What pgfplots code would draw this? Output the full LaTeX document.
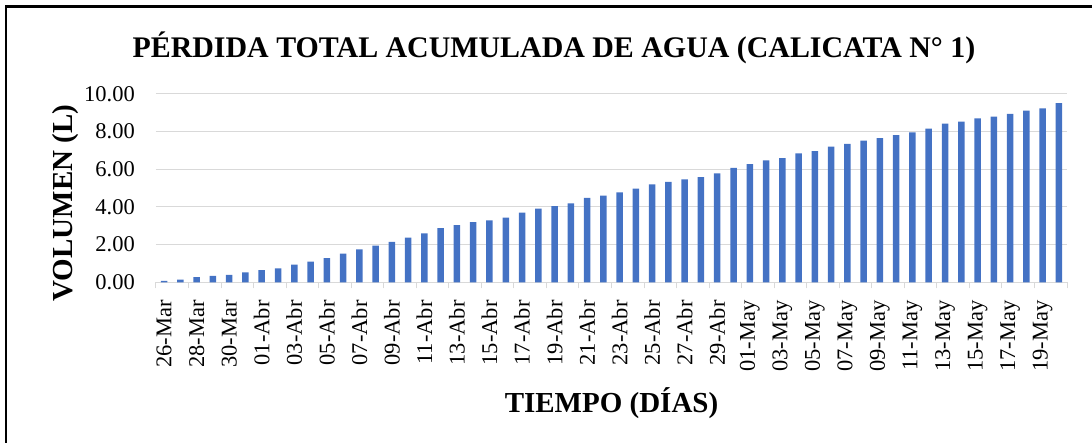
\documentclass[border=0pt]{standalone}
\usepackage{fontspec}
\setmainfont{Liberation Serif}
\usepackage{pgfplots}
\usepackage{pgfplotstable}
\pgfplotsset{compat=1.18}
\definecolor{barblue}{HTML}{4472C4}
\definecolor{gridgray}{HTML}{D9D9D9}
\pgfplotstableread{
x y
0 0.07
1 0.14
2 0.28
3 0.34
4 0.39
5 0.53
6 0.65
7 0.74
8 0.94
9 1.10
10 1.29
11 1.52
12 1.75
13 1.95
14 2.14
15 2.37
16 2.60
17 2.88
18 3.03
19 3.20
20 3.29
21 3.43
22 3.70
23 3.91
24 4.05
25 4.19
26 4.48
27 4.60
28 4.78
29 4.97
30 5.20
31 5.33
32 5.47
33 5.58
34 5.79
35 6.07
36 6.28
37 6.48
38 6.60
39 6.85
40 6.97
41 7.20
42 7.35
43 7.52
44 7.66
45 7.81
46 7.96
47 8.16
48 8.42
49 8.53
50 8.71
51 8.80
52 8.94
53 9.12
54 9.24
55 9.52
}\datatable
\begin{document}
\begin{tikzpicture}
\useasboundingbox (0,0) rectangle (1092pt,443pt);
\begin{axis}[
  at={(156pt,160.7pt)}, anchor=south west,
  scale only axis, width=911pt, height=188.3pt,
  xmin=-0.5, xmax=55.5, ymin=0, ymax=10,
  axis x line*=bottom, axis y line*=left,
  x axis line style={draw=gridgray, line width=1pt},
  y axis line style={draw=none},
  ymajorgrids, grid style={draw=gridgray, line width=1pt},
  ytick={0,2,4,6,8,10},
  yticklabels={0.00,2.00,4.00,6.00,8.00,10.00},
  xtick={0,2,...,54},
  xticklabels={26-Mar,28-Mar,30-Mar,01-Abr,03-Abr,05-Abr,07-Abr,09-Abr,11-Abr,13-Abr,15-Abr,17-Abr,19-Abr,21-Abr,23-Abr,25-Abr,27-Abr,29-Abr,01-May,03-May,05-May,07-May,09-May,11-May,13-May,15-May,17-May,19-May},
  minor xtick={-0.5,1.5,...,55.5},
  major tick length=0pt,
  minor tick length=6pt,
  tick align=outside,
  minor x tick style={draw=gridgray, line width=1pt},
  yticklabel style={font=\fontsize{22.5}{27}\selectfont, inner sep=0pt, xshift=-21pt, anchor=east},
  xticklabel style={font=\fontsize{22.5}{27}\selectfont, yshift=-18pt, rotate=90, anchor=east, inner sep=0pt},
  xlabel={TIEMPO (DÍAS)},
  xlabel style={font=\bfseries\fontsize{29}{34}\selectfont, at={(axis description cs:0.5,-0.694)}, anchor=base},
  ylabel={VOLUMEN (L)},
  ylabel style={font=\bfseries\fontsize{29}{34}\selectfont, at={(axis description cs:-0.0922,0.421)}, anchor=base},
]
\addplot[ybar, fill=barblue, draw=none, bar width=6.5pt] table[x=x,y=y]{\datatable};
\end{axis}
\node[font=\bfseries\fontsize{29.9}{35}\selectfont, anchor=base] at (554pt,385pt) {PÉRDIDA TOTAL ACUMULADA DE AGUA (CALICATA N° 1)};
\draw[line width=2.6pt] (6pt,-5pt) -- (6pt,436.7pt) -- (1100pt,436.7pt);
\end{tikzpicture}
\end{document}
